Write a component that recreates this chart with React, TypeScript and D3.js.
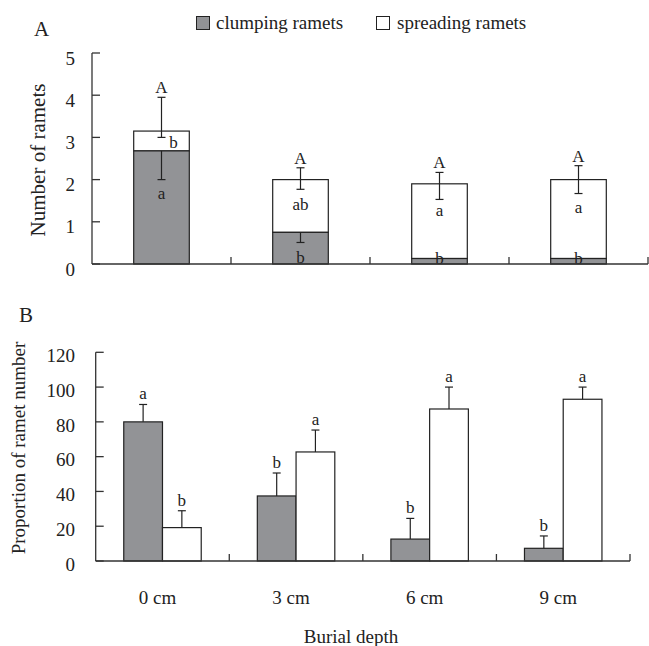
import React from "react";
import * as d3 from "d3";

const categories = ["0 cm", "3 cm", "6 cm", "9 cm"];

// Panel A: stacked number of ramets
const clumpingA = [2.68, 0.75, 0.13, 0.13];
const spreadingA = [0.47, 1.25, 1.77, 1.87];
const totalErrHighA = [3.95, 2.28, 2.17, 2.33];
const totalErrLowA = [3.0, 1.77, 1.53, 1.67];
const clumpErrLowA: (number | null)[] = [2.0, 0.51, null, null];
const totalLettersA = ["A", "A", "A", "A"];
const spreadLettersA = ["b", "ab", "a", "a"];
const spreadLetterYA = [2.9, 1.42, 1.29, 1.36];
const clumpLettersA = ["a", "b", "b", "b"];
const clumpLetterYA = [1.68, 0.17, 0.14, 0.14];
const yTicksA = [0, 1, 2, 3, 4, 5];

// Panel B: proportion of ramet number (%)
const clumpingB = [80, 37.4, 12.6, 7.3];
const clumpErrB = [90, 50.6, 24.5, 14.4];
const spreadingB = [19.2, 62.7, 87.4, 93];
const spreadErrB = [28.9, 75.3, 100, 100];
const clumpLettersB = ["a", "b", "b", "b"];
const spreadLettersB = ["b", "a", "a", "a"];
const yTicksB = [0, 20, 40, 60, 80, 100, 120];

const series = ["clumping ramets", "spreading ramets"];

const FONT = "'Liberation Serif', 'Times New Roman', serif";
const GRAY = "#929396";
const INK = "#222";
const AX = "#333";

export default function App() {
  // scales A
  const xA = d3.scaleBand().domain(categories).range([92, 648]).paddingInner(0.6).paddingOuter(0.3);
  const yA = d3.scaleLinear().domain([0, 5]).range([264, 53]);
  // scales B
  const xB = d3.scaleBand().domain(categories).range([95.7, 630]).paddingInner(0.42).paddingOuter(0.21);
  const xSub = d3.scaleBand().domain(series).range([0, xB.bandwidth()]);
  const yB = d3.scaleLinear().domain([0, 120]).range([561, 352.3]);

  const stepA = xA.step();
  const stepB = xB.step();
  const cap = 4;

  const errBar = (x: number, y1: number, y2: number, capTop: boolean, capBottom: boolean, key: string) => (
    <g key={key} stroke={INK} strokeWidth={1.2}>
      <line x1={x} x2={x} y1={y1} y2={y2} />
      {capTop && <line x1={x - cap} x2={x + cap} y1={Math.min(y1, y2)} y2={Math.min(y1, y2)} />}
      {capBottom && <line x1={x - cap} x2={x + cap} y1={Math.max(y1, y2)} y2={Math.max(y1, y2)} />}
    </g>
  );

  return (
    <svg width={649} height={646} style={{ position: "absolute", left: 0, top: 0, background: "#fff" }} fontFamily={FONT}>
      <rect width={649} height={646} fill="#fff" />
      {/* Panel labels */}
      <text x={34} y={36} fontSize={21} fill={INK}>A</text>
      <text x={19} y={322} fontSize={21} fill={INK}>B</text>

      {/* Legend */}
      <rect x={196.5} y={16.5} width={13} height={13} fill={GRAY} stroke={INK} strokeWidth={1} />
      <text x={216} y={29} fontSize={19} fill={INK}>{series[0]}</text>
      <rect x={376.5} y={16.5} width={13} height={13} fill="#fff" stroke={INK} strokeWidth={1} />
      <text x={397} y={29} fontSize={19} fill={INK}>{series[1]}</text>

      {/* ===== Panel A ===== */}
      <text transform="translate(45,160) rotate(-90)" textAnchor="middle" fontSize={21} fill={INK}>Number of ramets</text>
      {yTicksA.map((t) => (
        <g key={"ya" + t}>
          <line x1={92} x2={100} y1={yA(t)} y2={yA(t)} stroke={AX} strokeWidth={1.3} />
          <text x={75} y={yA(t) + 5} dy="0.35em" textAnchor="end" fontSize={19} fill={INK}>{t}</text>
        </g>
      ))}
      {categories.map((c, i) => {
        const x0 = xA(c)!;
        const w = xA.bandwidth();
        const cx = x0 + w / 2;
        const top = clumpingA[i] + spreadingA[i];
        return (
          <g key={"ba" + c}>
            <rect x={x0} y={yA(top)} width={w} height={yA(clumpingA[i]) - yA(top)} fill="#fff" stroke={INK} strokeWidth={1.2} />
            <rect x={x0} y={yA(clumpingA[i])} width={w} height={yA(0) - yA(clumpingA[i])} fill={GRAY} stroke={INK} strokeWidth={1.2} />
            {errBar(cx, yA(totalErrHighA[i]), yA(totalErrLowA[i]), true, true, "eat" + i)}
            {clumpErrLowA[i] !== null && errBar(cx, yA(clumpingA[i]), yA(clumpErrLowA[i] as number), false, true, "eac" + i)}
            <text x={cx} y={yA(totalErrHighA[i]) - 10} dy="0.35em" textAnchor="middle" fontSize={17} fill={INK}>{totalLettersA[i]}</text>
            <text x={i === 0 ? cx + 12 : cx} y={yA(spreadLetterYA[i])} dy="0.35em" textAnchor="middle" fontSize={17} fill={INK}>{spreadLettersA[i]}</text>
            <text x={cx} y={yA(clumpLetterYA[i])} dy="0.35em" textAnchor="middle" fontSize={17} fill={INK}>{clumpLettersA[i]}</text>
          </g>
        );
      })}
      <line x1={92} x2={92} y1={yA(5)} y2={yA(0)} stroke={AX} strokeWidth={1.3} />
      <line x1={92} x2={648} y1={yA(0)} y2={yA(0)} stroke={AX} strokeWidth={1.3} />
      {categories.map((c, i) => {
        const xb = 92 + stepA * (i + 1);
        return <line key={"xta" + i} x1={xb} x2={xb} y1={yA(0)} y2={yA(0) - 7} stroke={AX} strokeWidth={1.3} />;
      })}

      {/* ===== Panel B ===== */}
      <text transform="translate(25,448) rotate(-90)" textAnchor="middle" fontSize={19} fill={INK}>Proportion of ramet number</text>
      {yTicksB.map((t) => (
        <g key={"yb" + t}>
          <line x1={95.7} x2={103.7} y1={yB(t)} y2={yB(t)} stroke={AX} strokeWidth={1.3} />
          <text x={75} y={yB(t) + 3} dy="0.35em" textAnchor="end" fontSize={19} fill={INK}>{t}</text>
        </g>
      ))}
      {categories.map((c, i) => {
        const g0 = xB(c)!;
        const vals = [clumpingB[i], spreadingB[i]];
        const errs = [clumpErrB[i], spreadErrB[i]];
        const letters = [clumpLettersB[i], spreadLettersB[i]];
        return (
          <g key={"bb" + c}>
            {series.map((s, j) => {
              const x0 = g0 + xSub(s)!;
              const w = xSub.bandwidth();
              const cx = x0 + w / 2;
              return (
                <g key={s}>
                  <rect x={x0} y={yB(vals[j])} width={w} height={yB(0) - yB(vals[j])} fill={j === 0 ? GRAY : "#fff"} stroke={INK} strokeWidth={1.2} />
                  {errBar(cx, yB(vals[j]), yB(errs[j]), true, false, "eb" + j)}
                  <text x={cx} y={yB(errs[j]) - 11} dy="0.35em" textAnchor="middle" fontSize={17} fill={INK}>{letters[j]}</text>
                </g>
              );
            })}
            <text x={g0 + xB.bandwidth() / 2 - 5} y={604} textAnchor="middle" fontSize={19} fill={INK}>{c}</text>
          </g>
        );
      })}
      <line x1={95.7} x2={95.7} y1={yB(120)} y2={yB(0)} stroke={AX} strokeWidth={1.3} />
      <line x1={95.7} x2={630} y1={yB(0)} y2={yB(0)} stroke={AX} strokeWidth={1.3} />
      {categories.map((c, i) => {
        const xb = 95.7 + stepB * (i + 1);
        return <line key={"xtb" + i} x1={xb} x2={xb} y1={yB(0)} y2={yB(0) - 7} stroke={AX} strokeWidth={1.3} />;
      })}
      <text x={351} y={643} textAnchor="middle" fontSize={19} fill={INK}>Burial depth</text>
    </svg>
  );
}
